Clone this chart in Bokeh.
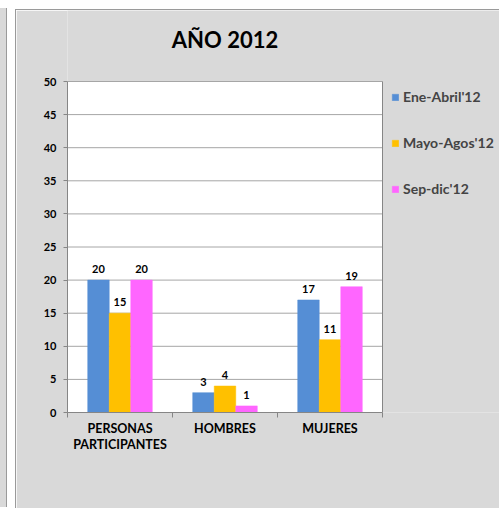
from bokeh.plotting import figure
from bokeh.models import (ColumnDataSource, Range1d, FixedTicker, Legend, LegendItem,
                          LabelSet, Label)
from bokeh.core.properties import value
from bokeh.transform import dodge
from bokeh.embed import file_html
from bokeh.resources import INLINE

# ---- data ----
categories = ["PERSONAS\nPARTICIPANTES", "HOMBRES", "MUJERES"]
series_names = ["Ene-Abril'12", "Mayo-Agos'12", "Sep-dic'12"]
ene_abril = [20, 3, 17]
mayo_agos = [15, 4, 11]
sep_dic = [20, 1, 19]
y_ticks = [0, 5, 10, 15, 20, 25, 30, 35, 40, 45, 50]
title_text = "AÑO 2012"

colors = ["#558ED5", "#FFC000", "#FF66FF"]
FONT = "Lato"
BG = "#D9D9D9"
EDGE = "#9A9A9A"
AX = "#868686"
GRID = "#A6A6A6"

n = len(categories)
ymax = y_ticks[-1]
# layout (pixels)
W, H = 484, 499
LEFT, BOTTOM = 51, 97
PLOT_W, PLOT_H = 315, 331
frame_w, frame_h = W - LEFT, H - BOTTOM

xpos = [i + 0.5 for i in range(n)]
src = ColumnDataSource(dict(x=xpos, a=ene_abril, b=mayo_agos, c=sep_dic,
                            la=[str(v) for v in ene_abril],
                            lb=[str(v) for v in mayo_agos],
                            lc=[str(v) for v in sep_dic]))

p = figure(width=W, height=H, output_backend="svg", toolbar_location=None,
           x_range=Range1d(0, n * frame_w / PLOT_W),
           y_range=Range1d(0, ymax * frame_h / PLOT_H),
           min_border_left=LEFT, min_border_right=0, min_border_top=0,
           min_border_bottom=BOTTOM, margin=(9, 0, 0, 15))
p.styles = {
    "border-top": "1px solid " + EDGE,
    "border-left": "1px solid " + EDGE,
    "box-shadow": ("-8px -1px 0 0 #ffffff, -9px -1px 0 0 " + EDGE +
                   ", -16px -1px 0 0 " + BG),
}
p.background_fill_color = BG
p.border_fill_color = BG
p.outline_line_color = None
p.xgrid.visible = False
p.ygrid.visible = False

# white plot area
p.quad(left=0, right=n, bottom=0, top=ymax, fill_color="white",
       line_color=None, level="image")
# horizontal gridlines limited to the plot area
p.segment(x0=[0] * len(y_ticks), x1=[n] * len(y_ticks), y0=y_ticks, y1=y_ticks,
          line_color=GRID, line_width=1, level="underlay")
# right border of plot area
p.segment(x0=[n], x1=[n], y0=[0], y1=[ymax], line_color=AX, line_width=1,
          level="underlay")

# title
p.add_layout(Label(x=n / 2, y=373, x_units="data", y_units="screen",
                   text=title_text, text_align="center", text_baseline="middle",
                   text_font=FONT, text_font_size="22px",
                   text_font_style="bold", text_color="black"))

# y axis
p.yaxis.ticker = FixedTicker(ticks=y_ticks)
p.yaxis.bounds = (0, ymax)
p.yaxis.axis_line_color = AX
p.yaxis.major_tick_line_color = AX
p.yaxis.major_tick_out = 4
p.yaxis.major_tick_in = 0
p.yaxis.minor_tick_line_color = None
p.yaxis.major_label_text_font = FONT
p.yaxis.major_label_text_font_style = "bold"
p.yaxis.major_label_text_font_size = "11px"
p.yaxis.major_label_text_color = "black"
p.yaxis.major_label_standoff = 7

# x axis
p.xaxis.ticker = FixedTicker(ticks=xpos, minor_ticks=list(range(n + 1)))
p.xaxis.bounds = (0, n)
p.xaxis.major_label_overrides = {x: c for x, c in zip(xpos, categories)}
p.xaxis.axis_line_color = AX
p.xaxis.major_tick_line_color = None
p.xaxis.minor_tick_line_color = AX
p.xaxis.minor_tick_out = 5
p.xaxis.minor_tick_in = 0
p.xaxis.major_label_text_font = FONT
p.xaxis.major_label_text_font_style = "bold"
p.xaxis.major_label_text_font_size = "12.5px"
p.xaxis.major_label_text_line_height = 1.1
p.xaxis.major_label_text_color = "black"
p.xaxis.major_label_standoff = 2

bw = 0.205
offsets = [-bw, 0.0, bw]
cols = ["a", "b", "c"]
lcols = ["la", "lb", "lc"]
items = []
for off, col, lcol, color, name in zip(offsets, cols, lcols, colors, series_names):
    r = p.vbar(x=dodge("x", off, range=p.x_range), top=col, width=bw, source=src,
               fill_color=color, line_color=color, line_width=0.5)
    items.append(LegendItem(label=name, renderers=[r]))
    lbl = LabelSet(x=dodge("x", off, range=p.x_range), y=col, text=lcol, source=src,
                   text_align="center", text_baseline="middle", y_offset=11,
                   text_font=value(FONT), text_font_style="bold",
                   text_font_size="11px", text_color="black")
    p.add_layout(lbl)

legend = Legend(items=items, location=(324, 215), orientation="vertical",
                glyph_width=8, glyph_height=8, label_standoff=4,
                label_text_font=FONT, label_text_font_style="bold",
                label_text_font_size="14px", label_height=14, spacing=29,
                padding=0, margin=0, background_fill_alpha=0,
                border_line_color=None)
p.add_layout(legend, "center")

open("out.html", "w").write(file_html(p, INLINE))
